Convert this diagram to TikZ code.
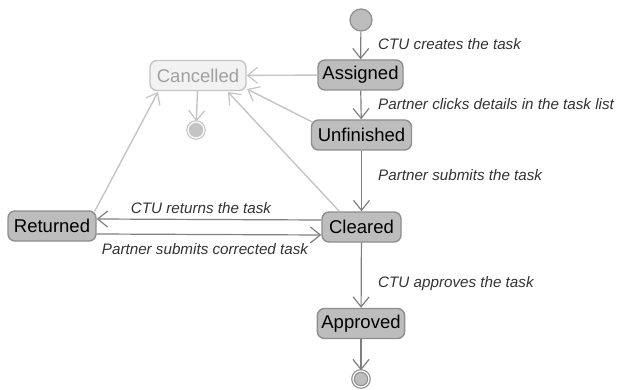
\documentclass[tikz,border=0pt]{standalone}
\usepackage{fontspec}
\setmainfont{Liberation Sans}
\usetikzlibrary{arrows.meta}
\definecolor{stfill}{HTML}{BDBDBD}
\definecolor{stdraw}{HTML}{8E8E8E}
\definecolor{ln}{HTML}{7F7F7F}
\definecolor{lightfill}{HTML}{F2F2F2}
\definecolor{lightdraw}{HTML}{C4C4C4}
\definecolor{lighttext}{HTML}{A0A0A0}
\definecolor{txt}{HTML}{333333}
\begin{document}
\begin{tikzpicture}[x=1pt,y=-1pt,
  state/.style={draw=stdraw,fill=stfill,line width=1.4pt,rounded corners=7pt,minimum height=30pt,inner xsep=4pt,font=\fontsize{18.5}{20}\selectfont,text=black},
  lstate/.style={state,draw=lightdraw,fill=lightfill,text=lighttext},
  tr/.style={draw=ln,line width=1.2pt,-{Straight Barb[length=10pt,width=16pt,line width=1.2pt]}},
  ltr/.style={tr,draw=lightdraw,line width=1.4pt},
  lbl/.style={font=\fontsize{15.2}{17}\selectfont\itshape,text=txt,inner sep=0pt},
  initst/.style={circle,draw=stdraw,fill=stfill,line width=1.2pt,minimum size=22pt,inner sep=0pt},
  finst/.style={circle,draw=stdraw,fill=stfill,line width=1.2pt,minimum size=16pt,inner sep=0pt,double=white,double distance=1.2pt}]
\useasboundingbox (0,0) rectangle (618,390);
\node[initst] (init) at (361,20) {};
\node[state,minimum width=85pt] (assigned) at (360.5,75) {Assigned};
\node[lstate,minimum width=96pt] (cancelled) at (198,75.5) {Cancelled};
\node[finst,draw=lightdraw,fill=stfill!90!white] (cfin) at (196,130) {};
\node[state,minimum width=100pt] (unfinished) at (361.5,135) {Unfinished};
\node[state,minimum width=79pt] (cleared) at (361.5,227) {Cleared};
\node[state,minimum width=88pt] (returned) at (52,226) {Returned};
\node[state,minimum width=86pt] (approved) at (361,323.5) {Approved};
\node[finst] (fin) at (361,379) {};

\coordinate (ct1) at (247,89);
\coordinate (ct2) at (228,92);
\coordinate (ct3) at (158,92);

\draw[tr] (init) -- (assigned);
\draw[tr] (assigned) -- (unfinished);
\draw[tr] (unfinished) -- (cleared);
\draw[tr] (cleared) -- (approved);
\draw[tr] (approved) -- (fin);
\draw[ltr] (assigned) -- (cancelled);
\draw[ltr] (unfinished.north west) ++(2,3) -- (ct1);
\draw[ltr] (cleared.north west) ++(18,0) -- (ct2);
\draw[ltr] (returned.north east) ++(-2,1) -- (ct3);
\draw[ltr] (cancelled) -- (cfin);
\draw[tr] ([yshift=7pt]cleared.west) -- ([yshift=7pt]returned.east);
\draw[tr] ([yshift=-8pt]returned.east) -- ([yshift=-8pt]cleared.west);

\node[lbl,anchor=west] (l1) at (378,44) {CTU creates the task};
\node[lbl,anchor=west] (l2) at (378,104) {Partner clicks details in the task list};
\node[lbl,anchor=west] (l3) at (378,175) {Partner submits the task};
\node[lbl] (l4) at (201,208) {CTU returns the task};
\node[lbl] (l5) at (205,249) {Partner submits corrected task};
\node[lbl,anchor=west] (l6) at (378,284) {CTU approves the task};
\end{tikzpicture}
\end{document}
